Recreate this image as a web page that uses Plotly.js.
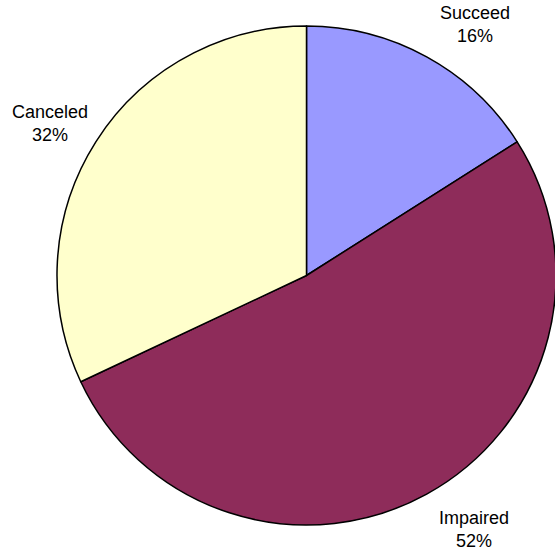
<!DOCTYPE html>
<html>
<head>
<meta charset="utf-8">
<script src="https://cdn.plot.ly/plotly-3.0.1.min.js"></script>
<style>
html,body{margin:0;padding:0;overflow:hidden;background:#fff;}
#chart{width:560px;height:550px;}
</style>
</head>
<body>
<div id="chart"></div>
<script>
var categories = ['Succeed', 'Impaired', 'Canceled'];
var values = [16, 52, 32];
var colors = ['#9999FF', '#8E2C5A', '#FFFFCC'];
// label anchor positions (paper fractions)
var labelX = [0.848, 0.846, 0.089];
var labelY = [0.956, 0.038, 0.775];

var W = 560, H = 550;
var annotations = categories.map(function (c, i) {
  return {
    xref: 'paper', yref: 'paper',
    x: labelX[i], y: labelY[i],
    xanchor: 'center', yanchor: 'middle',
    text: c + '<br>' + values[i] + '%',
    showarrow: false,
    align: 'center',
    font: {family: 'Liberation Sans, Arial, sans-serif', size: 18, color: '#000'}
  };
});

var trace = {
  type: 'pie',
  labels: categories,
  values: values,
  sort: false,
  direction: 'clockwise',
  rotation: 0,
  textinfo: 'none',
  hoverinfo: 'label+percent',
  marker: {colors: colors, line: {color: '#000', width: 1.5}},
  domain: {x: [57 / W, 556 / W], y: [25 / H, 524 / H]}
};

Plotly.newPlot('chart', [trace], {
  width: W, height: H,
  margin: {l: 0, r: 0, t: 0, b: 0},
  showlegend: false,
  paper_bgcolor: '#fff',
  annotations: annotations
}, {displayModeBar: false, staticPlot: true});
</script>
</body>
</html>
